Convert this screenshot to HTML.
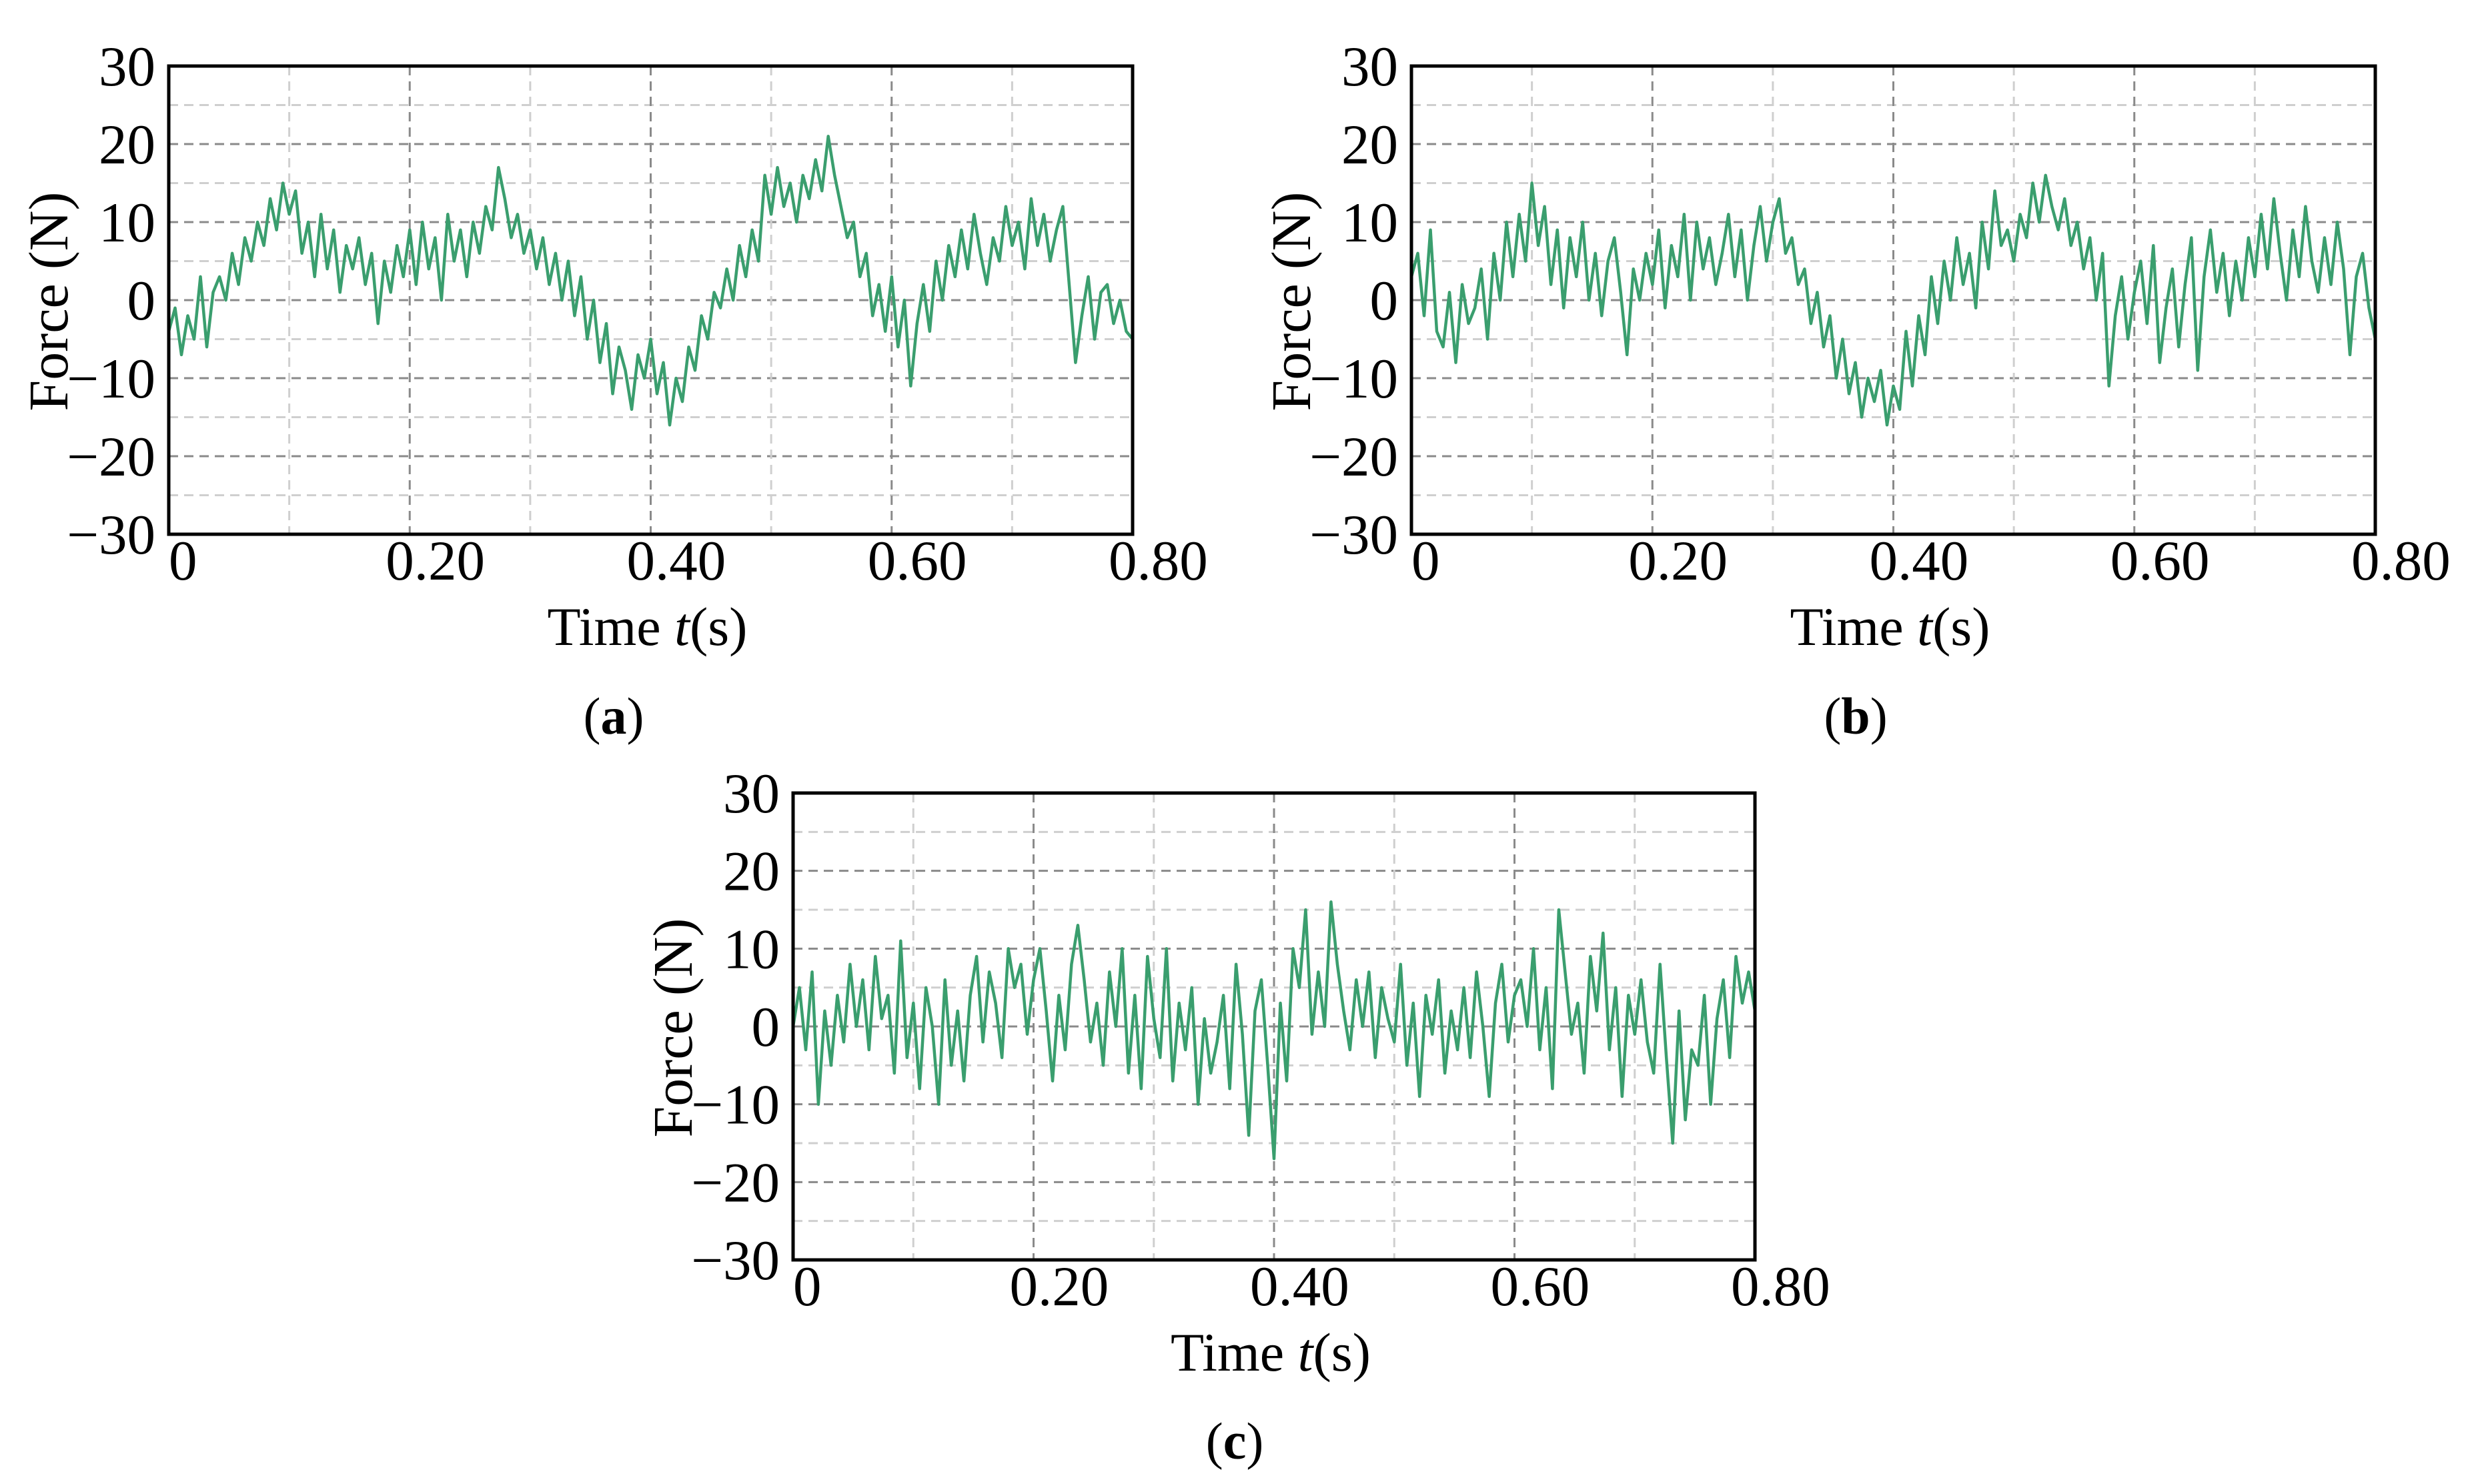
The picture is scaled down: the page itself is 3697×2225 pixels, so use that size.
<!DOCTYPE html>
<html><head><meta charset="utf-8"><style>
html,body{margin:0;padding:0;background:#fff;}
svg{display:block;}
text{font-family:"Liberation Serif",serif;fill:#000;}
</style></head><body>
<svg id="fig" width="3697" height="2225" viewBox="0 0 3697 2225" xmlns="http://www.w3.org/2000/svg"></svg>
<script>
const timeSpan = 0.8;
const yTicks = [30,20,10,0,-10,-20,-30];
const yTickLabels = ["30","20","10","0","\u221210","\u221220","\u221230"];
const xTicks = [0,0.2,0.4,0.6,0.8];
const xTickLabels = ["0","0.20","0.40","0.60","0.80"];
const seriesA = [-4,-1,-7,-2,-5,3,-6,1,3,0,6,
2,8,5,10,7,13,9,15,11,
14,6,10,3,11,4,9,1,7,4,
8,2,6,-3,5,1,7,3,9,
2,10,4,8,0,11,5,9,3,10,
6,12,9,17,13,8,11,6,9,
4,8,2,6,0,5,-2,3,-5,0,
-8,-3,-12,-6,-9,-14,-7,-10,-5,
-12,-8,-16,-10,-13,-6,-9,-2,-5,1,
-1,4,0,7,3,9,5,16,11,
17,12,15,10,16,13,18,14,21,16,
12,8,10,3,6,-2,2,-4,3,
-6,0,-11,-3,2,-4,5,0,7,3,
9,4,11,6,2,8,5,12,7,
10,4,13,7,11,5,9,12,2,-8,
-2,3,-5,1,2,-3,0,-4,-5];
const seriesB = [3,6,-2,9,-4,-6,1,-8,2,-3,-1,
4,-5,6,0,10,3,11,5,15,
7,12,2,9,-1,8,3,10,0,6,
-2,5,8,1,-7,4,0,6,2,
9,-1,7,3,11,0,10,4,8,2,
6,11,3,9,0,7,12,5,10,
13,6,8,2,4,-3,1,-6,-2,-10,
-5,-12,-8,-15,-10,-13,-9,-16,-11,
-14,-4,-11,-2,-7,3,-3,5,0,8,
2,6,-1,10,4,14,7,9,5,
11,8,15,10,16,12,9,13,7,10,
4,8,0,6,-11,-2,3,-5,1,
5,-3,7,-8,-1,4,-6,2,8,-9,
3,9,1,6,-2,5,0,8,3,
11,4,13,6,0,9,3,12,5,1,
8,2,10,4,-7,3,6,-1,-5];
const seriesC = [0,5,-3,7,-10,2,-5,4,-2,8,0,
6,-3,9,1,4,-6,11,-4,3,
-8,5,0,-10,6,-5,2,-7,4,9,
-2,7,3,-4,10,5,8,-1,6,
10,2,-7,4,-3,8,13,6,-2,3,
-5,7,0,10,-6,4,-8,9,1,
-4,10,-7,3,-3,5,-10,1,-6,-2,
4,-8,8,-1,-14,2,6,-5,-17,
3,-7,10,5,15,-1,7,0,16,8,
2,-3,6,0,7,-4,5,1,-2,
8,-5,3,-9,4,-1,6,-6,2,-3,
5,-4,7,0,-9,3,8,-2,4,
6,0,10,-3,5,-8,15,7,-1,3,
-6,9,2,12,-3,5,-9,4,-1,
6,-2,-6,8,-4,-15,2,-12,-3,-5,
4,-10,1,6,-4,9,3,7,2];

const NS="http://www.w3.org/2000/svg";
const svg=document.getElementById('fig');
function mk(tag,attrs,parent){const e=document.createElementNS(NS,tag);for(const k in attrs)e.setAttribute(k,attrs[k]);(parent||svg).appendChild(e);return e;}

function panel(id,L,T,R,B,data,cap,capX,capY){
  const g=mk('g',{});
  
  
  const xs=t=>L+(t/0.8)*(R-L);
  const ys=v=>T+(30-v)/60*(B-T);
  for(let v=-25;v<=25;v+=10){
    const l=mk('line',{x1:L,x2:R,y1:ys(v),y2:ys(v),stroke:'#cfcfcf','stroke-width':3,'stroke-dasharray':'14 9'},g);
    
    
  }
  for(let v=-20;v<=20;v+=10){
    const l=mk('line',{x1:L,x2:R,y1:ys(v),y2:ys(v),stroke:'#8a8a8a','stroke-width':3,'stroke-dasharray':'14 9'},g);
    
    
  }
  for(let k=1;k<8;k++){
    const t=k*0.1;
    const major=(k%2===0);
    const l=mk('line',{x1:xs(t),x2:xs(t),y1:T,y2:B,stroke:major?'#8a8a8a':'#cfcfcf','stroke-width':3,'stroke-dasharray':'14 9'},g);
    
    
  }
  let d='';
  const n=data.length;
  data.forEach((v,i)=>{d+=(i?'L':'M')+xs(i/(n-1)*timeSpan).toFixed(1)+','+ys(v).toFixed(1);});
  const p=mk('path',{d:d,fill:'none',stroke:'#3a9e6e','stroke-width':4.5,'stroke-linejoin':'round'},g);
  
  
  const box=mk('rect',{x:L,y:T,width:R-L,height:B-T,fill:'none',stroke:'#000','stroke-width':5},g);
  
  
  yTicks.forEach((v,i)=>{
    const t=mk('text',{x:L-20,y:ys(v)+29,'text-anchor':'end','font-size':85},g);
    t.textContent=yTickLabels[i];
    
    
  });
  xTicks.forEach((v,i)=>{
    const x=i===0?L:xs(v)-36;
    const t=mk('text',{x:x,y:B+68,'font-size':85},g);
    t.textContent=xTickLabels[i];
    
    
  });
  const xt=mk('text',{x:(L+R)/2-5,y:B+166,'text-anchor':'middle','font-size':82},g);
  xt.innerHTML='Time <tspan font-style="italic">t</tspan>(s)';
  
  
  const cy=(T+B)/2+2, cx=L-180;
  const yt=mk('text',{x:cx,y:cy,'text-anchor':'middle','font-size':84,transform:`rotate(-90 ${cx} ${cy}) translate(0 28)`},g);
  yt.textContent='Force (N)';
  
  
  const c=mk('text',{x:capX,y:capY,'text-anchor':'middle','font-size':78},g);
  c.innerHTML='(<tspan font-weight="bold">'+cap+'</tspan>)';
  
  
}
panel('a',253,99,1698,801,seriesA,'a',920,1100);
panel('b',2116,99,3561,801,seriesB,'b',2782,1100);
panel('c',1189,1189,2631,1889,seriesC,'c',1851,2187);
</script>
</body></html>
